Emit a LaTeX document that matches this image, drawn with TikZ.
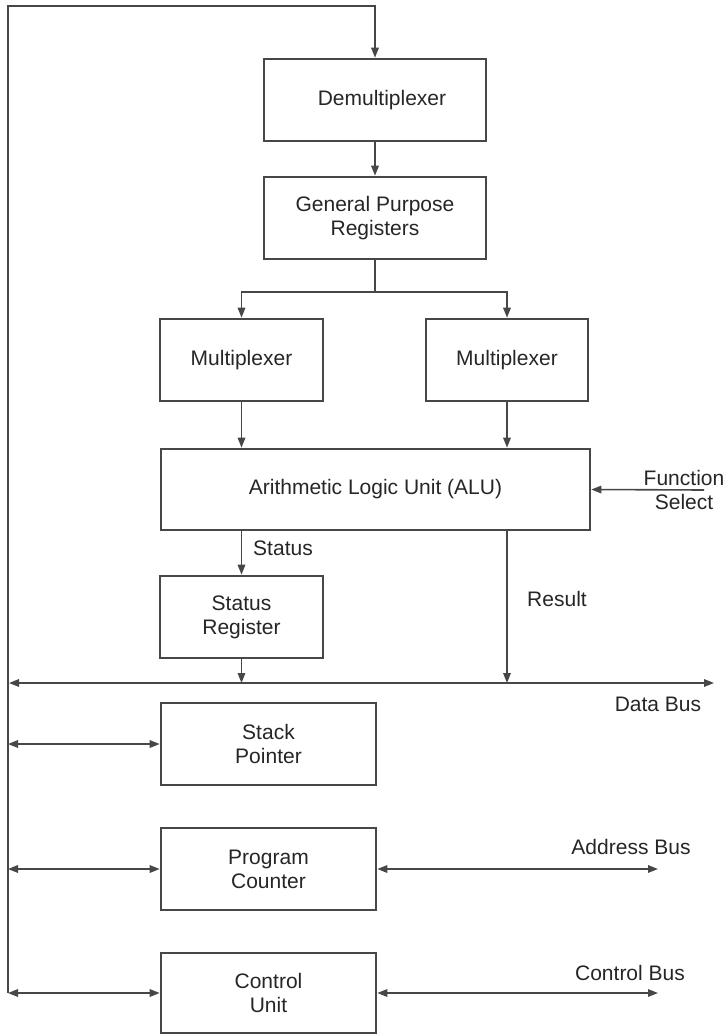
\documentclass[tikz,border=0pt]{standalone}
\usepackage{fontspec}
\setmainfont{Liberation Sans}
\usetikzlibrary{arrows.meta}
\definecolor{ink}{HTML}{474747}
\definecolor{txt}{HTML}{262626}
\begin{document}
\begin{tikzpicture}[x=1pt,y=-1pt,
  every node/.style={font=\fontsize{21}{24}\selectfont, text=txt},
  blk/.style={draw=ink, line width=2.6pt, fill=white, align=center, inner sep=0pt},
  conn/.style={draw=ink, line width=1.6pt},
  arr/.style={conn, -{Triangle[length=10pt,width=7.5pt]}},
  darr/.style={conn, {Triangle[length=10pt,width=7.5pt]}-{Triangle[length=10pt,width=7.5pt]}},
  lbl/.style={align=center, inner sep=0pt}]
\useasboundingbox (0,0) rectangle (724,1035);

% blocks
\node[blk, minimum width=222pt, minimum height=82pt] (demux) at (375,100) {\hspace*{14pt}Demultiplexer};
\node[blk, minimum width=222pt, minimum height=82pt] (gpr) at (375,218) {General Purpose\\Registers};
\node[blk, minimum width=163pt, minimum height=82pt] (muxL) at (241.5,360) {Multiplexer};
\node[blk, minimum width=162pt, minimum height=82pt] (muxR) at (507,360) {Multiplexer};
\node[blk, minimum width=429pt, minimum height=81pt] (alu) at (375.5,489.5) {Arithmetic Logic Unit (ALU)};
\node[blk, minimum width=163pt, minimum height=82pt] (sr) at (241.5,617) {Status\\Register};
\node[blk, minimum width=215pt, minimum height=82pt] (sp) at (268.5,744) {Stack\\Pointer};
\node[blk, minimum width=215pt, minimum height=82pt] (pc) at (268.5,869) {Program\\Counter};
\node[blk, minimum width=215pt, minimum height=80pt] (cu) at (268.5,993) {Control\\Unit};

% coordinates
\coordinate (top) at (8,6);
\coordinate (bot) at (8,993);
\coordinate (split) at (375,292);
\coordinate (fs) at (704,490);
\coordinate (dbL) at (9,683);
\coordinate (dbR) at (714,683);
\coordinate (res) at (alu.south -| muxR.south);
\coordinate (abR) at (658,869);
\coordinate (cbR) at (658,993);

% connectors
\draw[arr] (bot) -- (top) -| (demux.north);
\draw[arr] (demux.south) -- (gpr.north);
\draw[conn] (gpr.south) -- (split);
\draw[arr] (split) -| (muxL.north);
\draw[arr] (split) -| (muxR.north);
\draw[arr] (muxL.south) -- (muxL.south |- alu.north);
\draw[arr] (muxR.south) -- (muxR.south |- alu.north);
\draw[arr] (fs) -- (alu.east);
\draw[arr] (alu.south -| sr.north) -- (sr.north);
\draw[arr] (sr.south) -- (sr.south |- dbL);
\draw[arr] (res) -- (res |- dbL);
\draw[darr] (dbL) -- (dbR);
\draw[darr] (sp.west -| bot) -- (sp.west);
\draw[darr] (pc.west -| bot) -- (pc.west);
\draw[darr] (cu.west -| bot) -- (cu.west);
\draw[darr] (pc.east) -- (abR);
\draw[darr] (cu.east) -- (cbR);

% labels
\node[lbl] (fslbl) at (684,490) {Function\\Select};
\node[lbl] (stlbl) at (283,548) {Status};
\node[lbl] (reslbl) at (557,599) {Result};
\node[lbl] (dblbl) at (658,704) {Data Bus};
\node[lbl] (ablbl) at (631,847) {Address Bus};
\node[lbl] (cblbl) at (630,973) {Control Bus};
\end{tikzpicture}
\end{document}
